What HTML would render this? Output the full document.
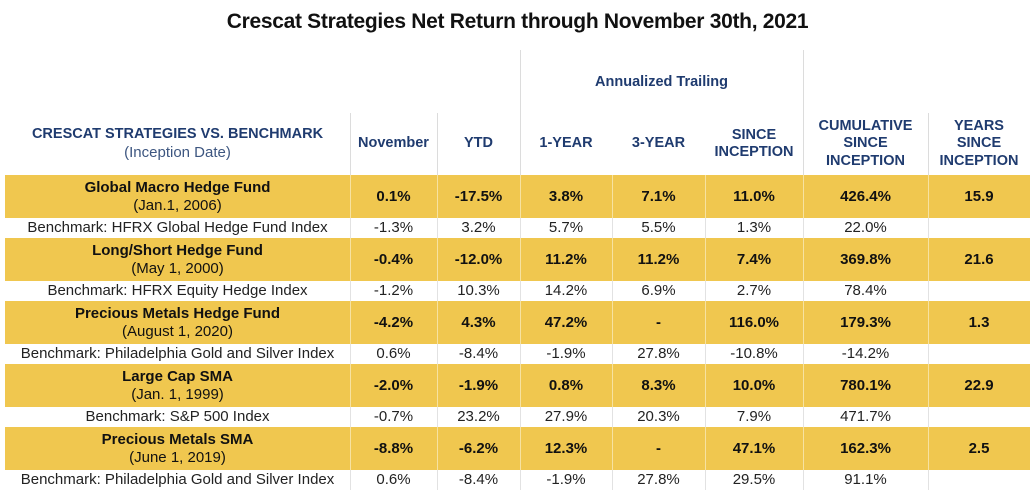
<!DOCTYPE html>
<html><head><meta charset="utf-8">
<style>
body{margin:0;width:1035px;height:491px;background:#fff;font-family:"Liberation Sans",Arial,sans-serif;position:relative;overflow:hidden}
.t{position:absolute;text-align:center;white-space:nowrap;display:flex;align-items:center;justify-content:center;flex-direction:column;line-height:1.2}
.h{color:#1f3b6f;font-weight:bold;font-size:14.5px}
.row{position:absolute;left:5px;width:1025px}
.vl{position:absolute;width:1px;background:#dcdcdc}
</style></head><body>
<div class="t" style="left:0;top:8px;width:1035px;height:28px;font-size:21px;font-weight:bold;color:#111;letter-spacing:-0.3px">Crescat Strategies Net Return through November 30th, 2021</div>
<div id="root"></div>
<script>
const cols=[5,350,437,520,612,705,803,928,1030];
const funds=["Global Macro Hedge Fund","Long/Short Hedge Fund","Precious Metals Hedge Fund","Large Cap SMA","Precious Metals SMA"];
const dates=["(Jan.1, 2006)","(May 1, 2000)","(August 1, 2020)","(Jan. 1, 1999)","(June 1, 2019)"];
const fundVals=[["0.1%","-17.5%","3.8%","7.1%","11.0%","426.4%","15.9"],["-0.4%","-12.0%","11.2%","11.2%","7.4%","369.8%","21.6"],["-4.2%","4.3%","47.2%","-","116.0%","179.3%","1.3"],["-2.0%","-1.9%","0.8%","8.3%","10.0%","780.1%","22.9"],["-8.8%","-6.2%","12.3%","-","47.1%","162.3%","2.5"]];
const benches=["Benchmark: HFRX Global Hedge Fund Index","Benchmark: HFRX Equity Hedge Index","Benchmark: Philadelphia Gold and Silver Index","Benchmark: S&P 500 Index","Benchmark: Philadelphia Gold and Silver Index"];
const benchVals=[["-1.3%","3.2%","5.7%","5.5%","1.3%","22.0%",""],["-1.2%","10.3%","14.2%","6.9%","2.7%","78.4%",""],["0.6%","-8.4%","-1.9%","27.8%","-10.8%","-14.2%",""],["-0.7%","23.2%","27.9%","20.3%","7.9%","471.7%",""],["0.6%","-8.4%","-1.9%","27.8%","29.5%","91.1%",""]];
const root=document.getElementById('root');
function box(x,y,w,h,html,cls,style,name){const d=document.createElement('div');d.className='t '+(cls||'');d.style.cssText=`left:${x}px;top:${y}px;width:${w}px;height:${h}px;`+(style||'');d.innerHTML=html;


root.appendChild(d);return d;}
function vline(x,y,h,c){const d=document.createElement('div');d.className='vl';d.style.cssText=`left:${x}px;top:${y}px;height:${h}px;`+(c?`background:${c}`:'');


root.appendChild(d);}
box(5,113,345,62,'CRESCAT STRATEGIES VS. BENCHMARK<br><span style="font-weight:normal;color:#3d5680;font-size:15px">(Inception Date)</span>','h','','header-strategy');
const hdr=["November","YTD","1-YEAR","3-YEAR","SINCE<br>INCEPTION","CUMULATIVE<br>SINCE<br>INCEPTION","YEARS<br>SINCE<br>INCEPTION"];
hdr.forEach((s,i)=>box(cols[i+1],113,cols[i+2]-cols[i+1],62,s,'h','','header-col-'+i));
box(520,55,283,55,'Annualized Trailing','h','','header-annualized');
vline(350,113,62);vline(437,113,62);vline(520,50,125);vline(803,50,125);vline(928,113,62);
funds.forEach((f,r)=>{
  const y=175+r*63;
  const bg=document.createElement('div');bg.className='row';bg.style.cssText=`top:${y}px;height:43px;background:#f0c74f`;
  
  
  root.appendChild(bg);
  box(5,y,345,43,`<b>${f}</b><span>${dates[r]}</span>`,'','font-size:15px;color:#111','fund-name');
  fundVals[r].forEach((v,i)=>box(cols[i+1],y,cols[i+2]-cols[i+1],43,v,'','font-size:15px;font-weight:bold;color:#111','fund-value'));
  box(5,y+43,345,20,benches[r],'','font-size:15px;color:#222','benchmark-name');
  benchVals[r].forEach((v,i)=>box(cols[i+1],y+43,cols[i+2]-cols[i+1],20,v,'','font-size:15px;color:#222','benchmark-value'));
  for(let i=1;i<cols.length-1;i++){vline(cols[i],y,43,'#f7e2a0');vline(cols[i],y+43,20,'#e2e2e2');}
});
</script>
</body></html>
